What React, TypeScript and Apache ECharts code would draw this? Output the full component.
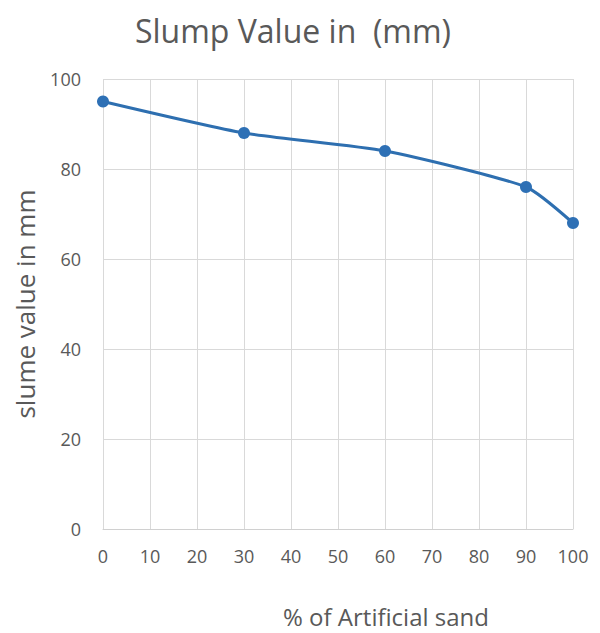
import React, { useEffect, useRef } from "react";
import * as echarts from "echarts";

const xValues = [0, 30, 60, 90, 100];
const slumpValues = [95, 88, 84, 76, 68];
const titleText = "Slump Value in  (mm)";
const xAxisName = "% of Artificial sand";
const yAxisName = "slume value in mm";

export default function App() {
  const ref = useRef<HTMLDivElement>(null);
  useEffect(() => {
    if (!ref.current) return;
    const chart = echarts.init(ref.current, null, { renderer: "svg" });
    const font = "'Open Sans', 'Noto Sans', sans-serif";
    chart.setOption({
      animation: false,
      backgroundColor: "#ffffff",
      grid: { left: 95, right: 35, top: 71, bottom: 112 },
      xAxis: {
        type: "value",
        min: 0,
        max: 100,
        interval: 10,
        axisLine: { show: true, lineStyle: { color: "#d0d0d0" } },
        axisTick: { show: false },
        splitLine: { show: true, lineStyle: { color: "#d9d9d9" } },
        axisLabel: { fontFamily: font, fontSize: 18, color: "#595959", margin: 18 },
      },
      yAxis: {
        type: "value",
        min: 0,
        max: 100,
        interval: 20,
        axisLine: { show: false },
        axisTick: { show: false },
        splitLine: { show: true, lineStyle: { color: "#d9d9d9" } },
        axisLabel: { fontFamily: font, fontSize: 18, color: "#595959", margin: 22 },
      },
      graphic: [
        {
          type: "text",
          x: 285,
          y: 22,
          style: {
            text: titleText,
            fontFamily: font,
            fontSize: 32,
            fill: "#595959",
            align: "center",
            verticalAlign: "middle",
          },
        },
        {
          type: "text",
          x: 378,
          y: 608,
          style: {
            text: xAxisName,
            fontFamily: font,
            fontSize: 24,
            fill: "#595959",
            align: "center",
            verticalAlign: "middle",
          },
        },
        {
          type: "text",
          x: 17,
          y: 296,
          rotation: Math.PI / 2,
          style: {
            text: yAxisName,
            fontFamily: font,
            fontSize: 26,
            fill: "#595959",
            align: "center",
            verticalAlign: "middle",
          },
        },
      ],
      series: [
        {
          type: "line",
          data: xValues.map((x, i) => [x, slumpValues[i]]),
          smooth: 0.2,
          symbol: "circle",
          symbolSize: 12,
          lineStyle: { color: "#2e6fb0", width: 3 },
          itemStyle: { color: "#2e70b5" },
        },
      ],
    });
    return () => chart.dispose();
  }, []);
  return <div ref={ref} style={{ width: 600, height: 633 }} />;
}
